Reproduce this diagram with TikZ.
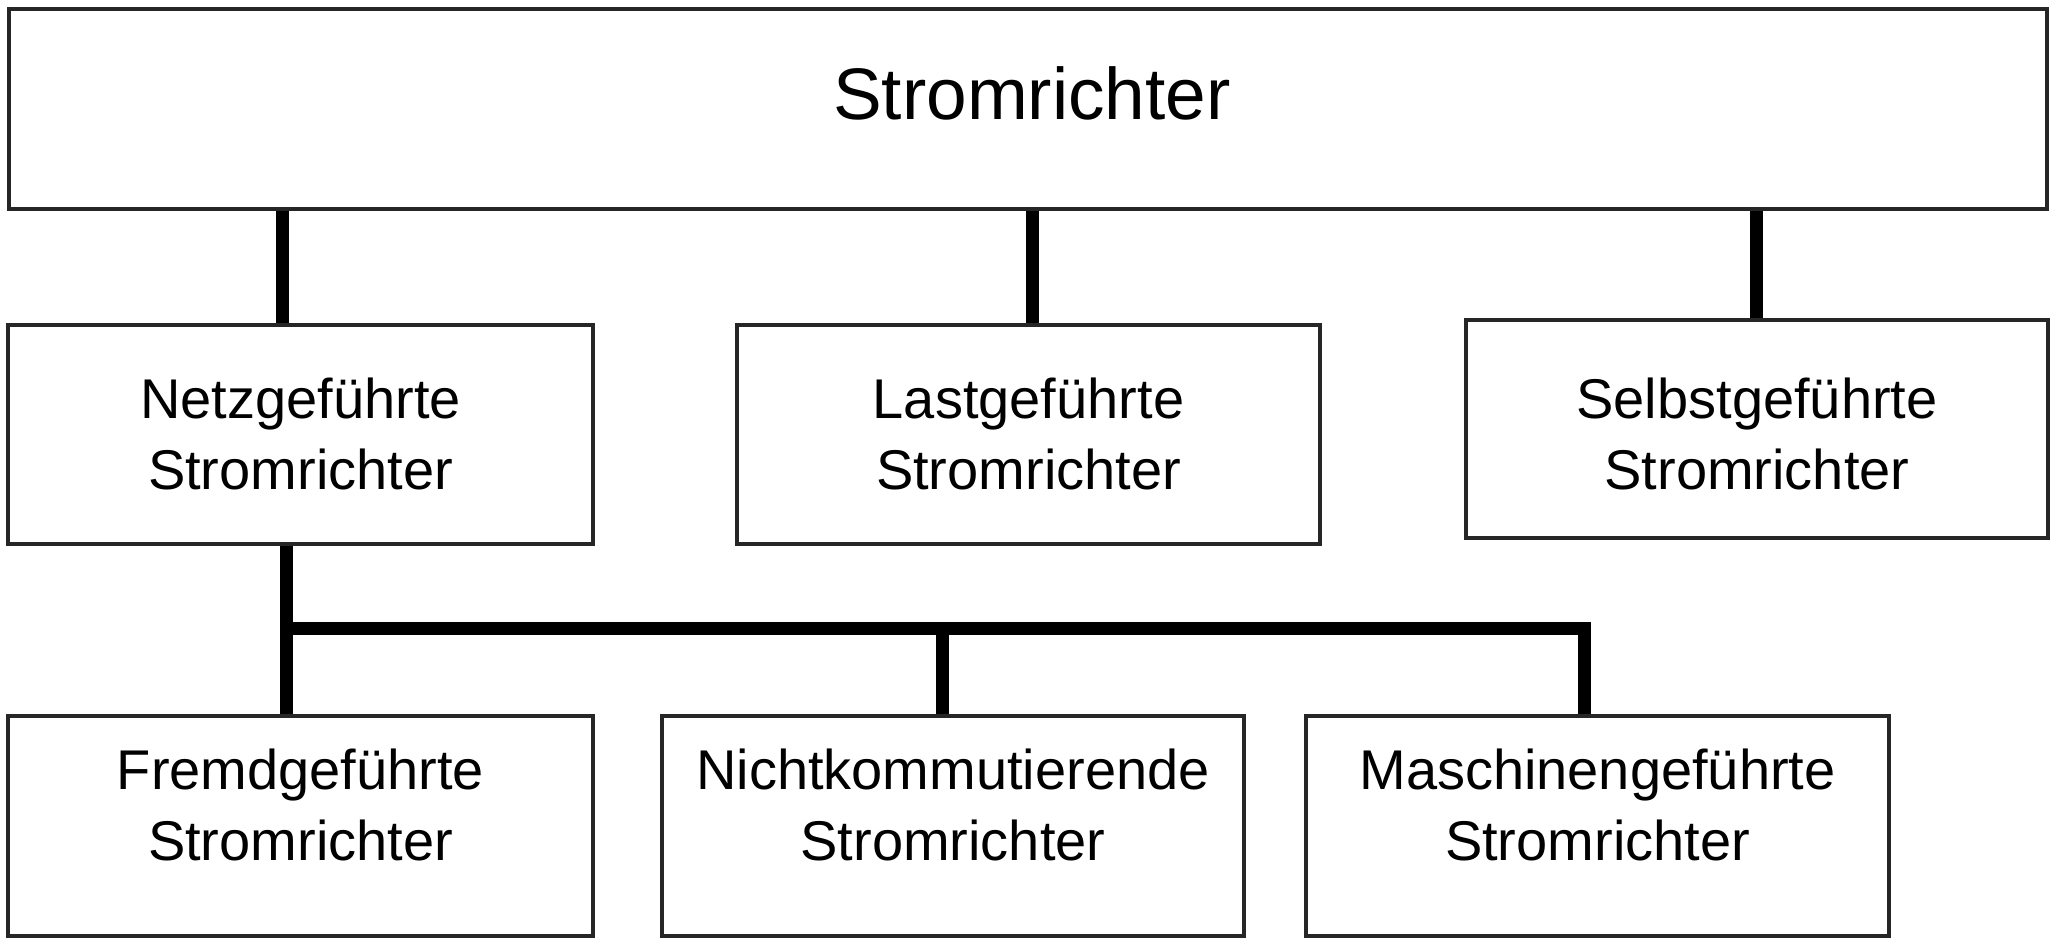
\documentclass[tikz,border=0pt]{standalone}
\usepackage{fontspec}
\setmainfont{Liberation Sans}
\begin{document}
\begin{tikzpicture}[x=1pt,y=-1pt,
  box/.style={draw=black!85, line width=3.3pt, fill=white, align=center,
    inner sep=0pt, font=\fontsize{56}{71}\selectfont, text depth=0pt},
  conn/.style={draw=black, line width=13pt, line join=miter}]
\useasboundingbox[fill=white] (0,0) rectangle (2060,941);
% boxes
\node[box, minimum width=2038, minimum height=200, text height=22,
  font=\fontsize{73}{88}\selectfont] (top) at (1028,109) {\hspace*{8pt}Stromrichter};
\node[box, minimum width=585, minimum height=219, text height=109] (netz) at (300.5,434.5) {Netzgeführte\\Stromrichter};
\node[box, minimum width=583, minimum height=219, text height=109] (last) at (1028.5,434.5) {Lastgeführte\\Stromrichter};
\node[box, minimum width=582, minimum height=218, text height=120] (selbst) at (1757,429) {Selbstgeführte\\Stromrichter};
\node[box, minimum width=585, minimum height=220, text height=68] (fremd) at (300.5,826) {Fremdgeführte\\Stromrichter};
\node[box, minimum width=582, minimum height=220, text height=68] (nicht) at (953,826) {Nichtkommutierende\\Stromrichter};
\node[box, minimum width=583, minimum height=220, text height=68] (masch) at (1597.5,826) {Maschinengeführte\\Stromrichter};
% connector positions
\coordinate (c1) at (282,0);
\coordinate (c2) at (1032,0);
\coordinate (c3) at (1756,0);
\coordinate (c4) at (286,0);
\coordinate (c5) at (942,0);
\coordinate (c6) at (1584,0);
\coordinate (bus) at (0,628);
% connectors
\draw[conn] (c1 |- top.south) -- (c1 |- netz.north);
\draw[conn] (c2 |- top.south) -- (c2 |- last.north);
\draw[conn] (c3 |- top.south) -- (c3 |- selbst.north);
\draw[conn] (c4 |- netz.south) -- (c4 |- fremd.north);
\draw[conn] (c4 |- bus) -- (c6 |- bus) -- (c6 |- masch.north);
\draw[conn] (c5 |- bus) -- (c5 |- nicht.north);
\end{tikzpicture}
\end{document}
